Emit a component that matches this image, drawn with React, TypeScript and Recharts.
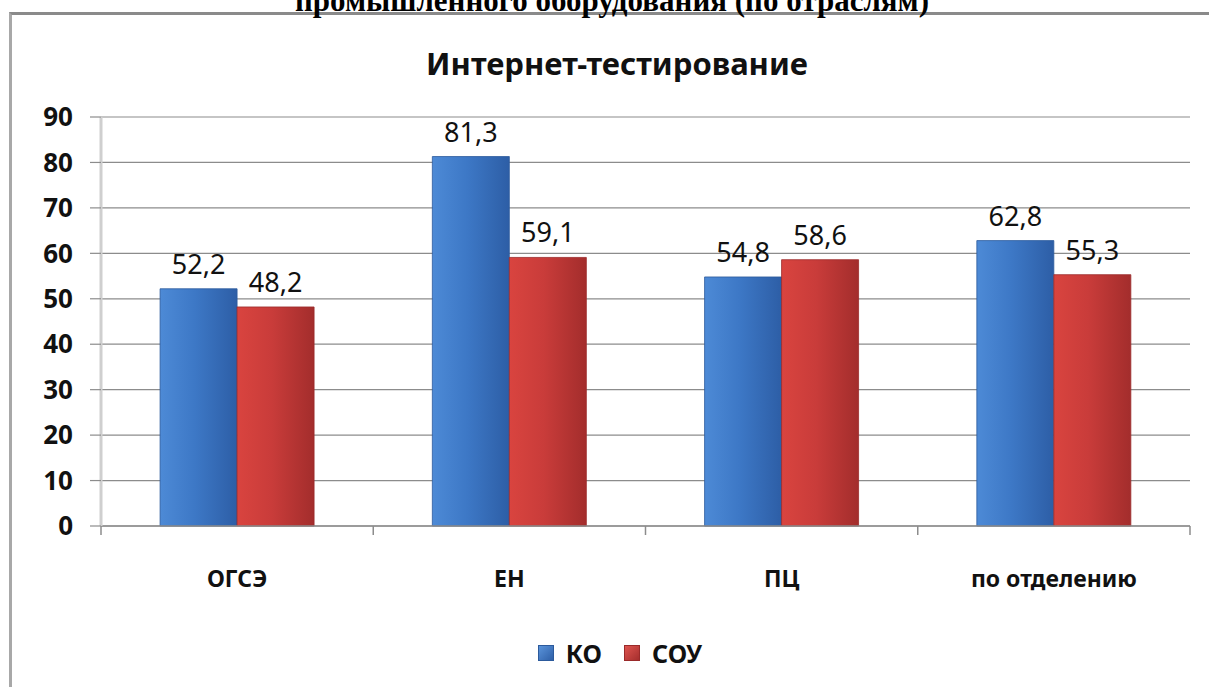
import React from 'react';
import { BarChart, Bar, XAxis, YAxis, CartesianGrid, Legend, LabelList } from 'recharts';

const categories = ['ОГСЭ', 'ЕН', 'ПЦ', 'по отделению'];
const koValues = [52.2, 81.3, 54.8, 62.8];
const souValues = [48.2, 59.1, 58.6, 55.3];
const yTicks = [0, 10, 20, 30, 40, 50, 60, 70, 80, 90];
const seriesNames = ['КО', 'СОУ'];
const chartTitle = 'Интернет-тестирование';
const pageHeading = 'промышленного оборудования  (по отраслям)';

const data = categories.map((c, i) => ({ name: c, ko: koValues[i], sou: souValues[i] }));

const FONT = '"Noto Sans", "DejaVu Sans", sans-serif';
const fmt = (v: any) => (typeof v === 'number' ? v.toFixed(1).replace('.', ',') : v);

const XTick = (props: any) => {
  const { x, y, payload, index, visibleTicksCount } = props;
  const off = payload && payload.offset ? payload.offset : 0;
  const last = index === (visibleTicksCount ?? categories.length) - 1;
  return (
    <g>
      <line x1={x - off} x2={x - off} y1={y} y2={y + 9} stroke="#8c8c8c" strokeWidth={1.5} />
      {last && <line x1={x + off} x2={x + off} y1={y} y2={y + 9} stroke="#8c8c8c" strokeWidth={1.5} />}
      <text x={x} y={y + 52} textAnchor="middle" dominantBaseline="central" fontFamily={FONT} fontWeight={700} fontSize={23} fill="#111">
        {payload.value}
      </text>
    </g>
  );
};

const LegendContent = (props: any) => {
  const items = props.payload || [];
  const fills: Record<string, string> = { ko: 'url(#lgBlue)', sou: 'url(#lgRed)' };
  return (
    <div style={{ display: 'flex', justifyContent: 'center', alignItems: 'center', fontFamily: FONT, fontWeight: 700, fontSize: 25, color: '#111' }}>
      {items.map((it: any, i: number) => (
        <div key={i} style={{ display: 'flex', alignItems: 'center', marginRight: i < items.length - 1 ? 22 : 0 }}>
          <svg width={16} height={16} style={{ marginRight: 12 }}>
            <defs>
              <linearGradient id="lgBlue" x1="0" y1="0" x2="1" y2="1">
                <stop offset="0%" stopColor="#5b95dc" />
                <stop offset="100%" stopColor="#2d5ea6" />
              </linearGradient>
              <linearGradient id="lgRed" x1="0" y1="0" x2="1" y2="1">
                <stop offset="0%" stopColor="#e05550" />
                <stop offset="100%" stopColor="#a32d2c" />
              </linearGradient>
            </defs>
            <rect x={0.5} y={0.5} width={15} height={15} fill={fills[it.dataKey] || it.color} stroke={it.dataKey === 'ko' ? '#2c5a9c' : '#9a2a2a'} strokeWidth={1} />
          </svg>
          <span>{it.value}</span>
        </div>
      ))}
    </div>
  );
};

export default function App() {
  return (
    <div style={{ position: 'absolute', left: 0, top: 0, width: 1209, height: 687, overflow: 'hidden', background: '#fff' }}>
      <div style={{ position: 'absolute', left: 9, top: 12, width: 1300, height: 800, borderTop: '3px solid #8a8a8a', borderLeft: '3px solid #a8a8a8' }} />
      <svg width={1209} height={687} style={{ position: 'absolute', left: 0, top: 0, pointerEvents: 'none' }}>
        <text x={612} y={11} textAnchor="middle" fontFamily='"Liberation Serif", "Times New Roman", serif' fontWeight={700} fontSize={31} fill="#000">
          {pageHeading}
        </text>
        <text x={617} y={63} textAnchor="middle" dominantBaseline="central" fontFamily={FONT} fontWeight={700} fontSize={31} fill="#111">
          {chartTitle}
        </text>
      </svg>
      <div style={{ position: 'absolute', left: 0, top: 0 }}>
        <BarChart width={1209} height={687} data={data} margin={{ top: 117, right: 19, left: 0, bottom: 0 }} barCategoryGap="21.7%" barGap={0}>
          <defs>
            <linearGradient id="gBlue" x1="0" y1="0" x2="1" y2="0">
              <stop offset="0%" stopColor="#4d8ad6" />
              <stop offset="45%" stopColor="#3d78c6" />
              <stop offset="100%" stopColor="#2d5ea6" />
            </linearGradient>
            <linearGradient id="gRed" x1="0" y1="0" x2="1" y2="0">
              <stop offset="0%" stopColor="#d9443f" />
              <stop offset="45%" stopColor="#c93c3a" />
              <stop offset="100%" stopColor="#a32d2c" />
            </linearGradient>
          </defs>
          <CartesianGrid vertical={false} stroke="#8c8c8c" strokeWidth={1.2} />
          <XAxis dataKey="name" height={161} tickSize={0} tickMargin={0} tickLine={false} axisLine={{ stroke: '#8c8c8c', strokeWidth: 1.5 }} tick={<XTick />} interval={0} />
          <YAxis domain={[0, 90]} ticks={yTicks} width={101} tickSize={11} tickMargin={17} allowDecimals={false}
            axisLine={{ stroke: '#cfcfcf', strokeWidth: 3 }} tickLine={{ stroke: '#8c8c8c', strokeWidth: 1.2 }}
            tick={{ fontFamily: FONT, fontWeight: 700, fontSize: 26, fill: '#111' }} />
          <Legend verticalAlign="middle" align="center" layout="horizontal"
            wrapperStyle={{ top: 636, left: 30, width: 1180 }}
            content={<LegendContent />} />
          <Bar dataKey="ko" name={seriesNames[0]} fill="url(#gBlue)" stroke="#2c5a9c" strokeWidth={0.8} isAnimationActive={false} legendType="square">
            <LabelList dataKey="ko" position="top" offset={15} formatter={fmt} style={{ fontFamily: FONT, fontSize: 27, fill: '#111' }} />
          </Bar>
          <Bar dataKey="sou" name={seriesNames[1]} fill="url(#gRed)" stroke="#9a2a2a" strokeWidth={0.8} isAnimationActive={false} legendType="square">
            <LabelList dataKey="sou" position="top" offset={15} formatter={fmt} style={{ fontFamily: FONT, fontSize: 27, fill: '#111' }} />
          </Bar>
        </BarChart>
      </div>
    </div>
  );
}
